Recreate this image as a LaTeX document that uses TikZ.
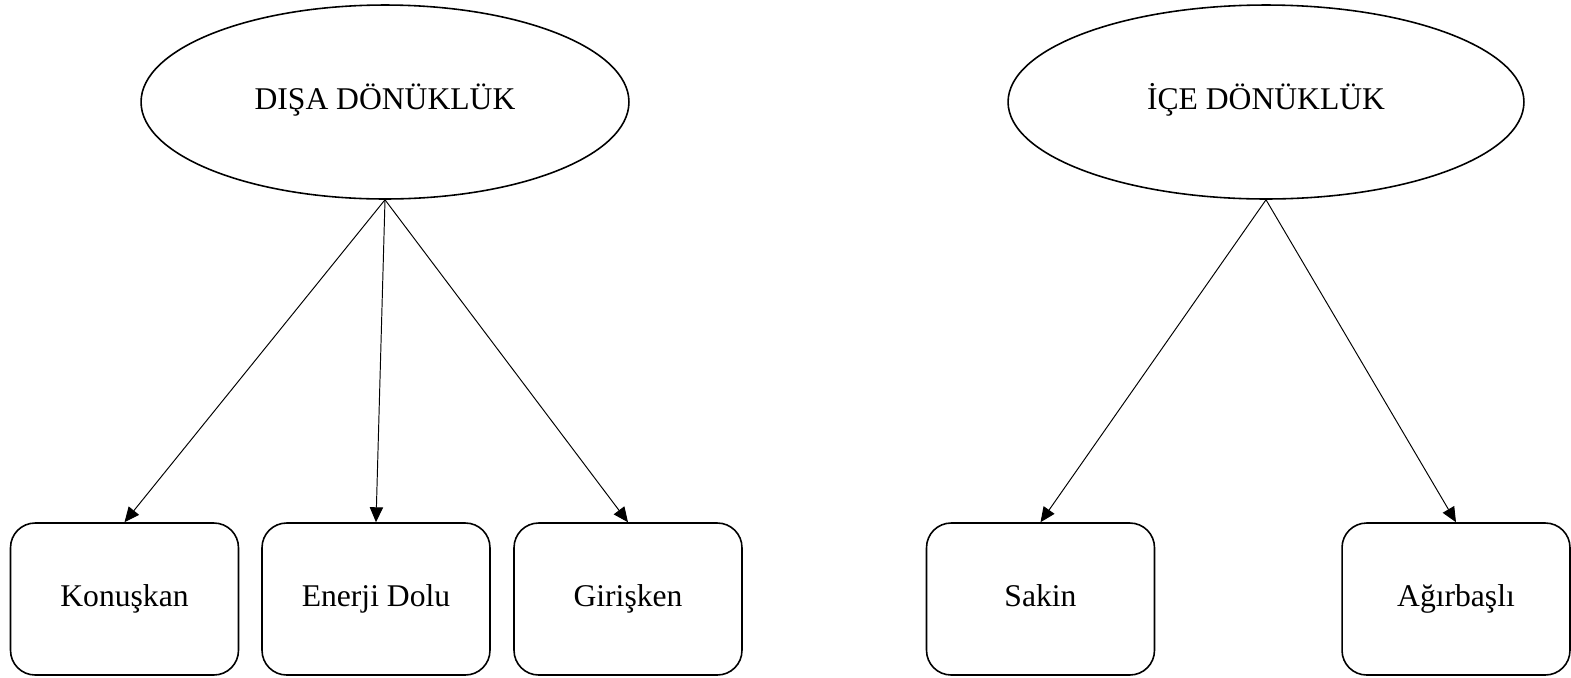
\documentclass[tikz,border=0pt]{standalone}
\usepackage{fontspec}
\setmainfont{Liberation Serif}
\usetikzlibrary{arrows.meta,shapes.geometric}

\begin{document}
\begin{tikzpicture}[x=0.02cm,y=-0.02cm,
	oval/.style={draw,line width=0.9pt,ellipse,minimum height=3.88cm,inner sep=0pt},
	kutu/.style={draw,line width=0.9pt,rounded corners=14pt,minimum width=4.56cm,minimum height=3.04cm},
	ok/.style={-{Triangle[length=8.5pt,width=7.5pt]},line width=0.55pt},
	font=\fontsize{18}{21}\selectfont,text height=0.85em,text depth=0em]
	%%%%% START %%%%%
	\useasboundingbox (0,0) rectangle (1571,677);
	
	\node[oval,minimum width=9.76cm] (disa) at (385,102) {DIŞA DÖNÜKLÜK};
	\node[oval,minimum width=10.32cm] (ice) at (1266,102) {İÇE DÖNÜKLÜK};
	
	\node[kutu] (konuskan) at (124.5,599) {Konuşkan};
	\node[kutu] (enerji) at (376,599) {Enerji Dolu};
	\node[kutu] (giriskan) at (628,599) {Girişken};
	
	\node[kutu] (sakin) at (1040.5,599) {Sakin};
	\node[kutu] (agir) at (1456,599) {Ağırbaşlı};
	
	\draw[ok] (disa.south) -- (konuskan.north);
	\draw[ok] (disa.south) -- (enerji.north);
	\draw[ok] (disa.south) -- (giriskan.north);
	
	\draw[ok] (ice.south) -- (sakin.north);
	\draw[ok] (ice.south) -- (agir.north);
	%%%%% END %%%%%
\end{tikzpicture}
\end{document}
